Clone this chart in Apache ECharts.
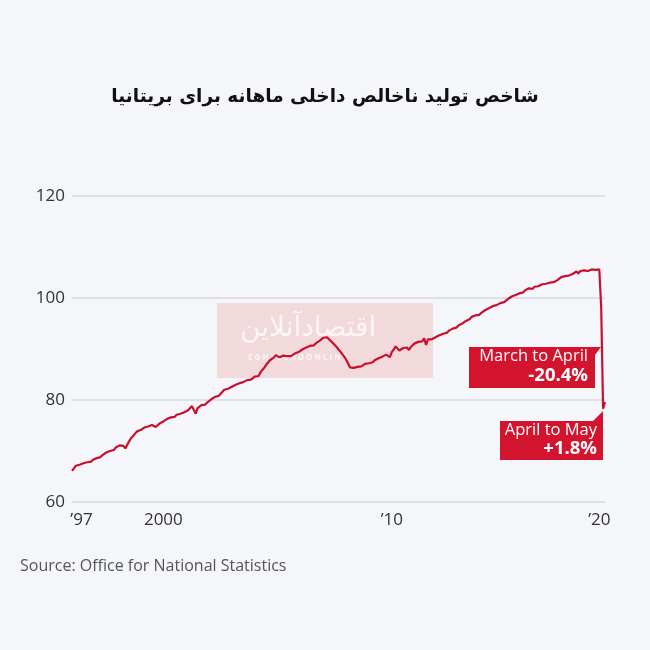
<!DOCTYPE html>
<html>
<head>
<meta charset="utf-8">
<script src="https://cdn.jsdelivr.net/npm/echarts@6/dist/echarts.min.js"></script>
<style>
html,body{margin:0;padding:0;background:#f4f6f9;}
#chart{width:650px;height:650px;}
</style>
</head>
<body>
<div id="chart"></div>
<script>
// Monthly GDP index, Jan 1997 - May 2020
const gdp1997 = [66.1, 66.6, 67.1, 67.0, 67.3, 67.2, 67.6, 67.5, 67.8, 68.0, 67.9, 68.3];
const gdp1998 = [68.4, 68.6, 68.9, 68.8, 69.2, 69.4, 69.7, 69.6, 70.0, 70.3, 70.2, 70.7];
const gdp1999 = [70.9, 71.1, 70.8, 71.0, 70.5, 71.2, 71.9, 72.5, 72.9, 73.2, 73.8, 73.9];
const gdp2000 = [74.1, 74.4, 74.6, 74.3, 74.8, 74.9, 75.1, 75.2, 74.7, 75.0, 75.4, 75.6];
const gdp2001 = [75.8, 76.1, 76.3, 76.2, 76.6, 76.8, 76.7, 77.1, 77.4, 77.3, 77.5, 77.6];
const gdp2002 = [77.8, 78.0, 78.3, 78.8, 78.5, 77.3, 78.4, 78.7, 79.0, 79.2, 79.1, 79.5];
const gdp2003 = [79.8, 80.1, 80.3, 80.6, 80.9, 80.8, 81.2, 81.4, 82.0, 81.8, 82.2, 82.5];
const gdp2004 = [82.6, 82.9, 83.0, 83.2, 83.3, 83.6, 83.5, 83.8, 83.9, 84.2, 84.0, 84.3];
const gdp2005 = [84.6, 84.9, 84.7, 85.4, 85.9, 86.3, 86.9, 87.2, 87.8, 87.7, 88.3, 88.8];
const gdp2006 = [88.6, 88.4, 88.5, 88.7, 88.4, 88.6, 88.9, 88.6, 88.8, 89.1, 89.0, 89.4];
const gdp2007 = [89.7, 89.9, 90.1, 90.3, 90.2, 90.6, 90.8, 90.7, 91.1, 91.3, 91.6, 91.9];
const gdp2008 = [92.2, 92.5, 92.3, 91.9, 91.6, 91.2, 90.8, 90.4, 89.9, 89.5, 89.0, 88.5];
const gdp2009 = [87.9, 87.2, 86.4, 86.7, 86.3, 86.6, 86.5, 86.8, 86.6, 86.9, 87.1, 87.0];
const gdp2010 = [87.2, 87.5, 87.4, 87.8, 88.0, 88.2, 88.1, 88.5, 88.6, 88.9, 88.7, 88.4];
const gdp2011 = [89.4, 89.9, 90.5, 90.1, 89.7, 90.0, 90.2, 89.9, 90.3, 89.8, 90.4, 90.7];
const gdp2012 = [91.1, 91.0, 91.4, 91.6, 91.5, 92.1, 90.8, 91.9, 92.2, 91.9, 92.0, 92.3];
const gdp2013 = [92.4, 92.7, 92.9, 93.0, 93.3, 93.2, 93.6, 93.8, 94.0, 94.3, 94.2, 94.6];
const gdp2014 = [94.8, 95.0, 95.3, 95.5, 95.4, 95.9, 96.3, 96.2, 96.6, 96.8, 96.7, 97.1];
const gdp2015 = [97.3, 97.6, 97.5, 98.0, 98.1, 98.4, 98.3, 98.6, 98.8, 99.0, 99.3, 99.2];
const gdp2016 = [99.5, 99.8, 100.0, 100.3, 100.2, 100.6, 100.8, 100.9, 101.2, 101.1, 101.5, 101.7];
const gdp2017 = [101.9, 102.0, 101.8, 102.2, 102.4, 102.3, 102.6, 102.7, 102.9, 102.8, 103.1, 103.0];
const gdp2018 = [103.2, 103.1, 103.0, 103.5, 103.8, 104.1, 104.4, 104.3, 104.5, 104.4, 104.6, 104.7];
const gdp2019 = [104.9, 105.2, 104.8, 105.3, 105.0, 105.4, 105.5, 105.3, 105.4, 105.6, 105.4, 105.5];
const gdp2020 = [105.5, 105.6, 98.2, 78.3, 79.6];

const startYear = 1997;
const yearly = [gdp1997, gdp1998, gdp1999, gdp2000, gdp2001, gdp2002, gdp2003, gdp2004,
  gdp2005, gdp2006, gdp2007, gdp2008, gdp2009, gdp2010, gdp2011, gdp2012, gdp2013,
  gdp2014, gdp2015, gdp2016, gdp2017, gdp2018, gdp2019, gdp2020];

// x tick labels (category -> text)
const tickMonths = ["1997-06", "2001-01", "2011-01", "2020-02"];
const tickTexts = ["\u201997", "2000", "\u201910", "\u201920"];

const yTicks = [60, 80, 100, 120];

const title = "شاخص تولید ناخالص داخلی ماهانه برای بریتانیا";
const source = "Source: Office for National Statistics";

const months = [];
const values = [];
yearly.forEach((arr, yi) => {
  arr.forEach((v, mi) => {
    months.push((startYear + yi) + "-" + String(mi + 1).padStart(2, "0"));
    values.push(v);
  });
});

const chart = echarts.init(document.getElementById('chart'), null, {renderer: 'canvas'});
const FONT = "'Open Sans', 'Noto Sans', sans-serif";
const RED = "#d2142e";

chart.setOption({
  backgroundColor: "#f4f6f9",
  animation: false,
  title: {
    text: title,
    left: 'center',
    top: 83,
    textStyle: {fontFamily: "'DejaVu Sans', sans-serif", fontWeight: 'bold', fontSize: 18.5, color: '#111'}
  },
  grid: {left: 72, right: 45, top: 196, bottom: 148, containLabel: false},
  xAxis: {
    type: 'category',
    data: months,
    boundaryGap: false,
    axisLine: {show: false},
    axisTick: {show: false},
    splitLine: {show: false},
    axisLabel: {
      interval: (i, v) => tickMonths.indexOf(v) >= 0,
      formatter: (v) => { const k = tickMonths.indexOf(v); return k >= 0 ? tickTexts[k] : ''; },
      fontFamily: FONT, fontSize: 17, color: '#333', margin: 10
    }
  },
  yAxis: {
    type: 'value',
    min: yTicks[0], max: yTicks[yTicks.length - 1], interval: 20,
    axisLine: {show: false},
    axisTick: {show: false},
    splitLine: {lineStyle: {color: '#d6d8dc', width: 1.5}},
    axisLabel: {fontFamily: FONT, fontSize: 17, color: '#333', margin: 7}
  },
  graphic: [
    {type: 'rect', z: 0, zlevel: 0, silent: true,
      shape: {x: 217, y: 303, width: 216, height: 75}, style: {fill: '#f1d9dc'}},
    {type: 'text', z: 1, silent: true, left: 240, top: 315,
      style: {text: 'اقتصادآنلاین', fontFamily: "'DejaVu Sans', sans-serif", fontSize: 28, fill: 'rgba(255,255,255,0.75)'}},
    {type: 'text', z: 1, silent: true, left: 248, top: 354,
      style: {text: 'E G H T E S A D O N L I N E', fontFamily: FONT, fontSize: 8, fontWeight: 'bold', fill: 'rgba(255,255,255,0.75)'}},
    {type: 'polygon', z: 100, silent: true,
      shape: {points: [[469, 347], [601, 347], [595, 355], [595, 388], [469, 388]]}, style: {fill: RED}},
    {type: 'text', z: 101, silent: true, right: 650 - 588, top: 348,
      style: {text: 'March to April', fontFamily: FONT, fontSize: 16.5, fill: '#fff', align: 'right'}},
    {type: 'text', z: 101, silent: true, right: 650 - 588, top: 366,
      style: {text: '-20.4%', fontFamily: FONT, fontSize: 18.5, fontWeight: 'bold', fill: '#fff', align: 'right'}},
    {type: 'polygon', z: 100, silent: true,
      shape: {points: [[500, 421], [593, 421], [603, 411], [603, 460], [500, 460]]}, style: {fill: RED}},
    {type: 'text', z: 101, silent: true, right: 650 - 597, top: 422,
      style: {text: 'April to May', fontFamily: FONT, fontSize: 16.5, fill: '#fff', align: 'right'}},
    {type: 'text', z: 101, silent: true, right: 650 - 597, top: 439,
      style: {text: '+1.8%', fontFamily: FONT, fontSize: 18.5, fontWeight: 'bold', fill: '#fff', align: 'right'}},
    {type: 'text', silent: true, left: 20, top: 558,
      style: {text: source, fontFamily: FONT, fontSize: 16, fill: '#555'}}
  ],
  series: [{
    type: 'line',
    data: values,
    showSymbol: false,
    symbol: 'none',
    z: 10,
    lineStyle: {color: '#c8102e', width: 2.2},
    emphasis: {disabled: true}
  }]
});
</script>
</body>
</html>
